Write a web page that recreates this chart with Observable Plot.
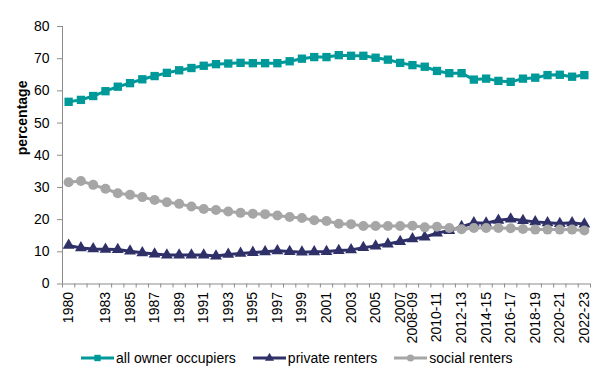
<!DOCTYPE html>
<html><head><meta charset="utf-8">
<script src="https://cdn.jsdelivr.net/npm/d3@7"></script>
<script src="https://cdn.jsdelivr.net/npm/@observablehq/plot@0.6"></script>
<style>
body{margin:0;background:#fff;font-family:"Liberation Sans",Arial,sans-serif;}
#wrap{position:relative;width:606px;height:379px;overflow:hidden;}
#legend{position:absolute;left:81px;top:349px;height:18px;display:flex;align-items:center;font-size:14px;color:#000;white-space:nowrap;}
.item{display:flex;align-items:center;margin-right:17px;}
.item svg{margin-right:2px;}
</style></head><body><div id="wrap"><div id="chart"></div><div id="legend"></div></div>
<script>
const categories = ["1980","1981","1982","1983","1984","1985","1986","1987","1988","1989",
  "1990","1991","1992","1993","1994","1995","1996","1997","1998","1999",
  "2000","2001","2002","2003","2004","2005","2006","2007",
  "2008-09","2009-10","2010-11","2011-12","2012-13","2013-14","2014-15","2015-16",
  "2016-17","2017-18","2018-19","2019-20","2020-21","2021-22","2022-23"];
const ownerOccupiers = [56.6,57.2,58.4,59.9,61.3,62.4,63.6,64.6,65.6,66.4,
  67.1,67.8,68.3,68.5,68.7,68.6,68.6,68.6,69.2,70.0,
  70.5,70.5,71.1,70.9,70.9,70.3,69.7,68.7,
  68.0,67.5,66.2,65.5,65.5,63.5,63.8,63.1,
  62.8,63.8,64.1,64.9,65.0,64.4,64.9];
const privateRenters = [12.0,11.2,10.9,10.8,10.7,10.2,9.7,9.3,9.0,9.0,
  9.0,9.0,8.7,9.2,9.5,9.8,10.0,10.3,10.1,9.9,
  10.0,10.1,10.4,10.6,11.3,11.8,12.4,13.2,
  14.0,14.6,15.8,16.6,17.8,19.0,18.9,19.8,
  20.2,19.7,19.3,19.0,18.8,19.0,18.6];
const socialRenters = [31.6,32.0,30.8,29.6,28.2,27.7,27.0,26.1,25.4,24.9,
  24.1,23.3,23.0,22.5,22.1,21.8,21.7,21.3,20.8,20.5,
  19.8,19.6,18.7,18.6,18.0,18.0,18.0,18.0,
  18.1,17.6,17.8,17.4,17.0,17.4,17.4,17.4,
  17.3,17.1,16.9,16.9,16.9,16.9,16.6];
const tickLabels = ["1980","1983","1985","1987","1989","1991","1993","1995","1997","1999",
  "2001","2003","2005","2007","2008-09","2010-11","2012-13","2014-15","2016-17",
  "2018-19","2020-21","2022-23"];
const yTicks = [0,10,20,30,40,50,60,70,80];

const series = [
  {name:"all owner occupiers", values: ownerOccupiers, color:"#009999", symbol:"square", r:4.7, lr:3.6},
  {name:"private renters", values: privateRenters, color:"#2f3068", symbol:"triangle", r:4.4, lr:3.4},
  {name:"social renters", values: socialRenters, color:"#a6a6a6", symbol:"circle", r:5, lr:3.6}
];

const n = categories.length;
const boundaries = d3.range(-0.5, n, 1);
const labelIdx = tickLabels.map(l => categories.indexOf(l));
const axisGrey = "#8c8c8c";

const chart = Plot.plot({
  width: 606,
  height: 345,
  marginLeft: 62,
  marginRight: 16,
  marginTop: 26,
  marginBottom: 61.5,
  style: {fontFamily: "'Liberation Sans', Arial, sans-serif", fontSize: "14px", background: "white", color: "#000"},
  x: {type: "linear", domain: [-0.5, n - 0.5], axis: null},
  y: {domain: [0, 80], axis: null},
  marks: [
    Plot.axisY({ticks: yTicks, tickSize: 5, tickPadding: 8, stroke: axisGrey, fill: "#000", fontSize: 14, label: null}),
    Plot.axisX({ticks: boundaries, tickSize: 4, tickFormat: () => "", stroke: axisGrey, label: null}),
    Plot.axisX({ticks: labelIdx, tickSize: 0, tickRotate: -90, tickPadding: 8, tickFormat: i => categories[i], fill: "#000", fontSize: 14, label: null}),
    Plot.ruleY([0], {stroke: axisGrey}),
    Plot.ruleX([-0.5], {stroke: axisGrey}),
    Plot.text(["percentage"], {frameAnchor: "left", dx: -40, rotate: -90, fontWeight: "bold", fontSize: 14, fill: "#000"}),
    ...series.flatMap(s => [
      Plot.line(s.values, {x: (d, i) => i, y: d => d, stroke: s.color, strokeWidth: 3}),
      Plot.dot(s.values, {x: (d, i) => i, y: d => d, symbol: s.symbol, r: s.r, fill: s.color, stroke: "none"})
    ])
  ]
});
document.getElementById("chart").appendChild(chart);

const legend = document.getElementById("legend");
for (const s of series) {
  const item = document.createElement("div");
  item.className = "item";
  const sym = d3.symbol(s.symbol === "square" ? d3.symbolSquare : s.symbol === "triangle" ? d3.symbolTriangle : d3.symbolCircle, Math.PI * s.lr * s.lr)();
  item.innerHTML = `<svg width="33" height="12"><line x1="0" x2="33" y1="6" y2="6" stroke="${s.color}" stroke-width="3"/><path d="${sym}" transform="translate(16.5,6)" fill="${s.color}"/></svg><span>${s.name}</span>`;
  legend.appendChild(item);
}
</script>
</body></html>
